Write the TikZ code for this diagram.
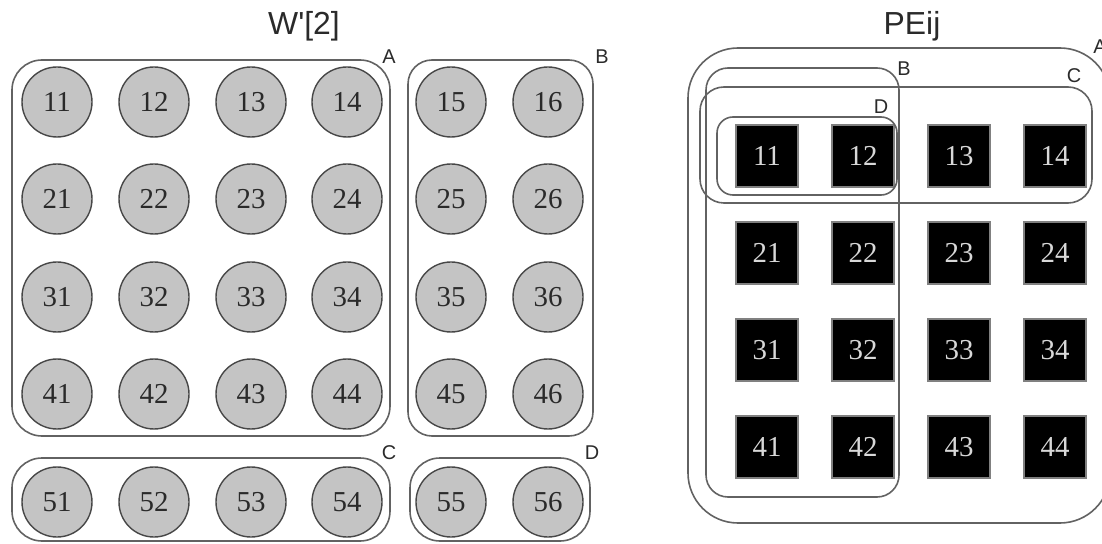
\documentclass[tikz,border=0pt]{standalone}
\usepackage{fontspec}
\setmainfont{Liberation Serif}
\newfontfamily\labelfont{Liberation Sans}
\definecolor{circfill}{HTML}{C4C4C4}
\definecolor{circedge}{HTML}{474747}
\definecolor{grpline}{HTML}{626262}
\definecolor{peedge}{HTML}{808080}
\definecolor{petext}{HTML}{D8D8D8}
\definecolor{inkgray}{HTML}{2A2A2A}
\begin{document}
\begin{tikzpicture}[x=1bp,y=-1bp,
  cell/.style={circle,draw=circedge,fill=circfill,line width=1.4bp,minimum size=70bp,
    inner sep=0pt,text=inkgray,font=\fontsize{29}{29}\selectfont},
  pe/.style={rectangle,draw=peedge,fill=black,line width=1.2bp,minimum size=62bp,
    inner sep=0pt,text=petext,font=\fontsize{29}{29}\selectfont},
  group/.style={draw=grpline,line width=1.6bp},
  tag/.style={font=\labelfont\fontsize{20}{20}\selectfont,inner sep=0pt,text=inkgray},
  heading/.style={font=\labelfont\fontsize{32}{32}\selectfont,inner sep=0pt,text=inkgray,anchor=base}]
\useasboundingbox (0,0) rectangle (1102,544);

% ---- left: weight matrix W'[2] ----
\node[heading] (wtitle) at (304,35) {W'[2]};
\foreach \r/\y in {1/102,2/199,3/297,4/394,5/502}
  \foreach \c/\x in {1/57,2/154,3/251,4/347,5/451,6/548}
    \node[cell] (c\r\c) at (\x,\y) {\r\c};

\draw[group,rounded corners=30bp] (12,60) rectangle (390,436);
\draw[group,rounded corners=24bp] (408,60) rectangle (593,436);
\draw[group,rounded corners=30bp] (12,458) rectangle (390,541);
\draw[group,rounded corners=30bp] (410,458) rectangle (590,541);
\node[tag] (la) at (389,57) {A};
\node[tag] (lb) at (602,57) {B};
\node[tag] (lc) at (389,453) {C};
\node[tag] (ld) at (592,453) {D};

% ---- right: processing elements PEij ----
\node[heading] (ptitle) at (912,35) {PEij};
\foreach \r/\y in {1/156,2/253,3/350,4/447}
  \foreach \c/\x in {1/767,2/863,3/959,4/1055}
    \node[pe] (s\r\c) at (\x,\y) {\r\c};

\draw[group,rounded corners=50bp] (688,48) rectangle (1110,523);
\draw[group,rounded corners=22bp] (706,68) rectangle (899,497);
\draw[group,rounded corners=24bp] (700,87) rectangle (1092,203);
\draw[group,rounded corners=16bp] (717,117) rectangle (897,195);
\node[tag] (ra) at (1100,47) {A};
\node[tag] (rb) at (904,69) {B};
\node[tag] (rc) at (1074,76) {C};
\node[tag] (rd) at (881,107) {D};
\end{tikzpicture}
\end{document}
